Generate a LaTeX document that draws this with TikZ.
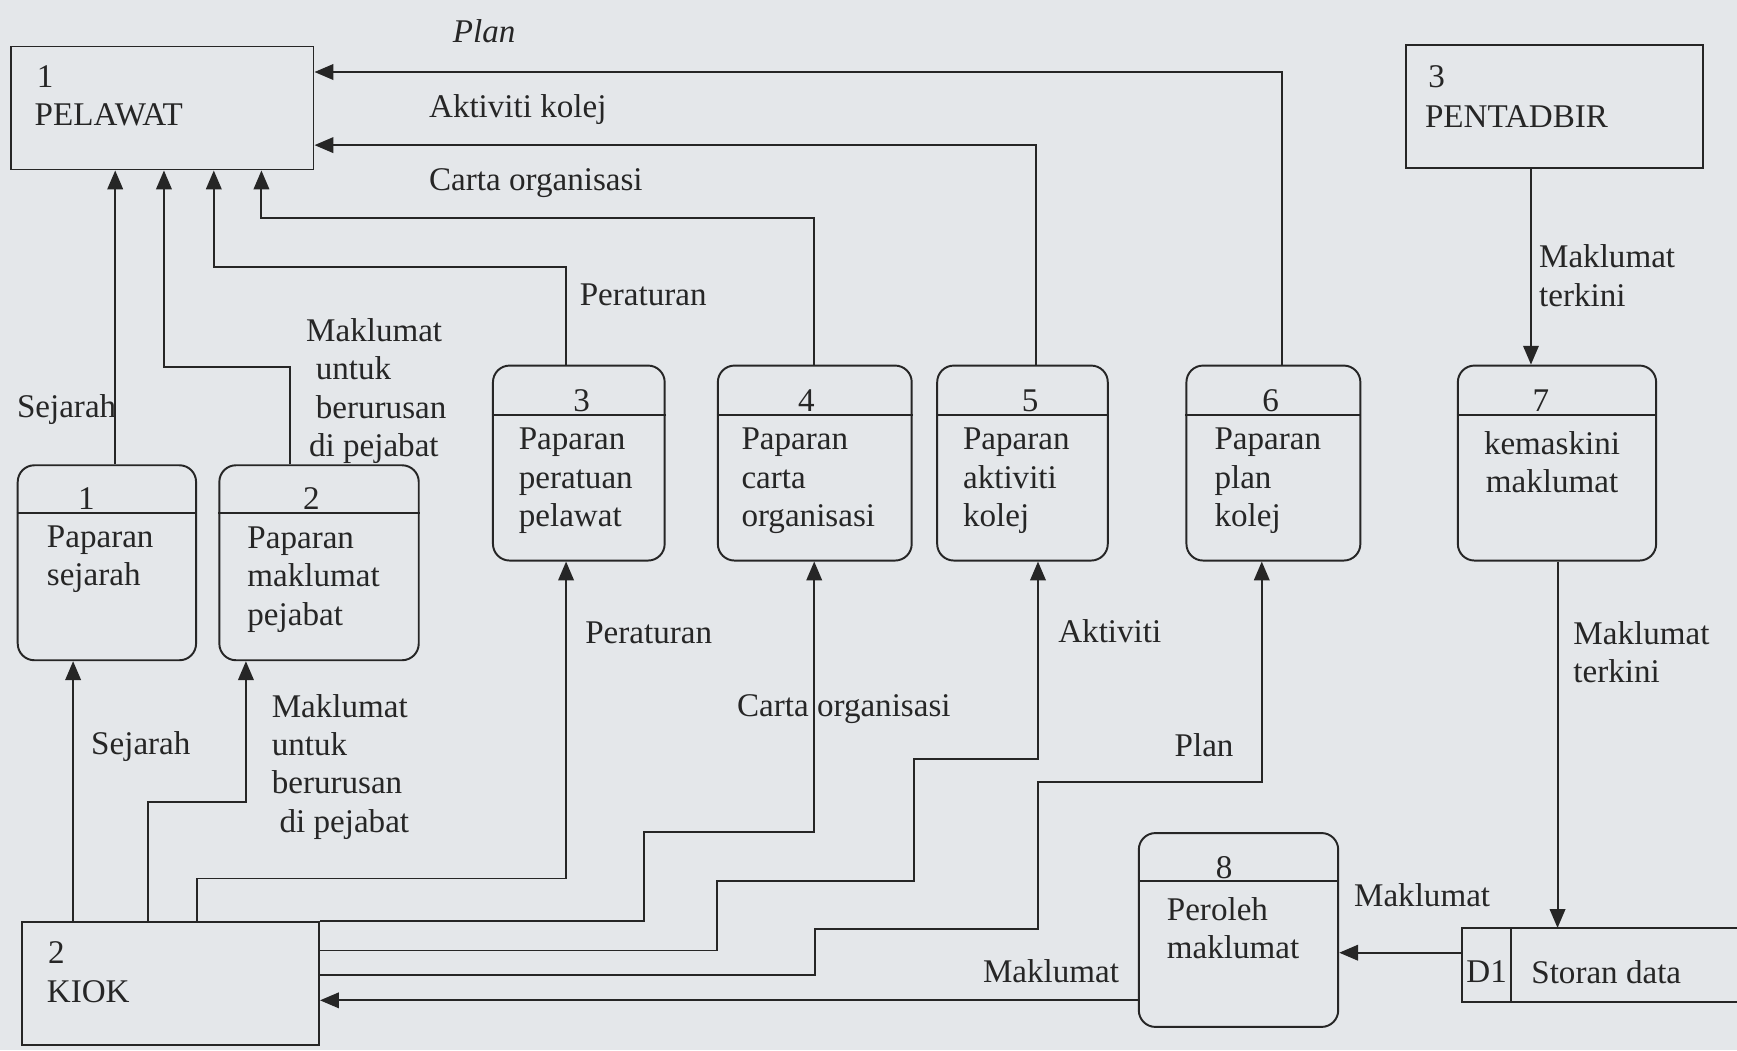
\documentclass[tikz,border=0pt]{standalone}
\usepackage{fontspec}
\setmainfont{Liberation Serif}
\usetikzlibrary{positioning, arrows.meta}
\definecolor{PaperGrey}{HTML}{E4E7EA}
\definecolor{InkGrey}{HTML}{262626}

\begin{document}
\begin{tikzpicture}[x=0.2mm, y=-0.2mm,
  every node/.style={font=\fontsize{17}{19.7}\selectfont, text=InkGrey, inner sep=0pt},
  entity/.style={draw=InkGrey, line width=1pt, rectangle, minimum height=22.2mm},
  proc/.style={draw=InkGrey, line width=1pt, rounded corners=3mm, minimum height=35.2mm},
  flow/.style={-{Triangle[length=3.4mm, width=2.8mm]}, line width=1pt, draw=InkGrey},
  lbl/.style={align=left, anchor=west}]
  \fill[PaperGrey] (0,0) rectangle (1568,948);
  \useasboundingbox (0,0) rectangle (1568,948);

  % External entities
  \node[entity, minimum width=54.6mm] (pelawat) at (146.5,97.5) {};
  \node[anchor=west] (pelawatnum) at (33,69) {1};
  \node[anchor=west] (pelawatname) at (31,104) {PELAWAT};
  \node[entity, minimum width=53.6mm] (kiok) at (154,887.5) {};
  \node[anchor=west] (kioknum) at (43,860) {2};
  \node[anchor=west] (kiokname) at (42,895) {KIOK};
  \node[entity, minimum width=53.6mm] (pentadbir) at (1403,96.5) {};
  \node[anchor=west] (pentadbirnum) at (1289,69) {3};
  \node[anchor=west] (pentadbirname) at (1286,105) {PENTADBIR};

  % Processes
  \node[proc, minimum width=32.2mm] (p1) at (96.5,508) {};
  \draw[InkGrey, line width=1pt] (p1.west |- 0,463) -- (p1.east |- 0,463);
  \node (p1num) at (78,450) {1};
  \node[lbl] (p1text) at (42,505) {Paparan\\sejarah};

  \node[proc, minimum width=36mm] (p2) at (288,508) {};
  \draw[InkGrey, line width=1pt] (p2.west |- 0,463) -- (p2.east |- 0,463);
  \node (p2num) at (281,450) {2};
  \node[lbl] (p2text) at (223,523) {Paparan\\maklumat\\pejabat};

  \node[proc, minimum width=31mm] (p3) at (522.5,418) {};
  \draw[InkGrey, line width=1pt] (p3.west |- 0,375) -- (p3.east |- 0,375);
  \node (p3num) at (525,362) {3};
  \node[lbl] (p3text) at (468,434) {Paparan\\peratuan\\pelawat};

  \node[proc, minimum width=35mm] (p4) at (735.5,418) {};
  \draw[InkGrey, line width=1pt] (p4.west |- 0,375) -- (p4.east |- 0,375);
  \node (p4num) at (728,362) {4};
  \node[lbl] (p4text) at (669,434) {Paparan\\carta\\organisasi};

  \node[proc, minimum width=30.8mm] (p5) at (923,418) {};
  \draw[InkGrey, line width=1pt] (p5.west |- 0,375) -- (p5.east |- 0,375);
  \node (p5num) at (930,362) {5};
  \node[lbl] (p5text) at (869,434) {Paparan\\aktiviti\\kolej};

  \node[proc, minimum width=31.4mm] (p6) at (1149.5,418) {};
  \draw[InkGrey, line width=1pt] (p6.west |- 0,375) -- (p6.east |- 0,375);
  \node (p6num) at (1147,362) {6};
  \node[lbl] (p6text) at (1096,434) {Paparan\\plan\\kolej};

  \node[proc, minimum width=35.8mm] (p7) at (1405.5,418) {};
  \draw[InkGrey, line width=1pt] (p7.west |- 0,375) -- (p7.east |- 0,375);
  \node (p7num) at (1391,362) {7};
  \node[align=center] (p7text) at (1401,417) {kemaskini\\maklumat};

  \node[proc, minimum width=36mm, minimum height=35mm] (p8) at (1118,839.5) {};
  \draw[InkGrey, line width=1pt] (p8.west |- 0,795) -- (p8.east |- 0,795);
  \node (p8num) at (1105,783) {8};
  \node[lbl] (p8text) at (1053,838) {Peroleh\\maklumat};

  % Data store
  \node[minimum width=49.6mm, minimum height=13.2mm] (store) at (1444,871) {};
  \draw[InkGrey, line width=1pt] (store.north east) -- (store.north west) -- (store.south west) -- (store.south east);
  \draw[InkGrey, line width=1pt] (1364,0 |- store.north) -- (1364,0 |- store.south);
  \node (storeid) at (1342,877) {D1};
  \node[anchor=west] (storename) at (1382,878) {Storan data};

  % Flows into PELAWAT
  \draw[flow] (1157,0 |- p6.north) |- (pelawat.east |- 0,65);
  \draw[flow] (935,0 |- p5.north) |- (pelawat.east |- 0,131);
  \draw[flow] (735,0 |- p4.north) -- (735,197) -| (236,0 |- pelawat.south);
  \draw[flow] (511,0 |- p3.north) -- (511,241) -| (193,0 |- pelawat.south);
  \draw[flow] (262,0 |- p2.north) -- (262,331) -| (148,0 |- pelawat.south);
  \draw[flow] (104,0 |- p1.north) -- (104,0 |- pelawat.south);
  \node[font=\fontsize{17}{19.7}\selectfont\itshape] (lplan) at (437,28) {Plan};
  \node[lbl] (laktiviti) at (387,99) {Aktiviti kolej};
  \node[lbl] (lcarta) at (387,165) {Carta organisasi};
  \node[lbl] (lperaturan) at (523,266) {Peraturan};
  \node[lbl] (lmaklumat) at (276,353) {Maklumat\\\hspace{5pt}untuk\\\hspace{5pt}berurusan\\\hspace{1.5pt}di pejabat};
  \node[lbl] (lsejarah) at (15,370) {Sejarah};

  % Flows from KIOK
  \draw[flow] (66,0 |- kiok.north) -- (66,0 |- p1.south);
  \draw[flow] (134,0 |- kiok.north) -- (134,724) -| (222,0 |- p2.south);
  \draw[flow] (178,0 |- kiok.north) -- (178,793) -| (511,0 |- p3.south);
  \draw[flow] (kiok.north east) -- (581,0 |- kiok.north) -- (581,751) -| (735,0 |- p4.south);
  \draw[flow] (kiok.east |- 0,858) -- (647,858) -- (647,795) -- (825,795) -- (825,685) -| (937,0 |- p5.south);
  \draw[flow] (kiok.east |- 0,880) -- (736,880) -- (736,839) -- (937,839) -- (937,706) -| (1139,0 |- p6.south);
  \node[lbl] (lsejarahb) at (82,674) {Sejarah};
  \node[lbl] (lmaklumatb) at (245,692) {Maklumat\\untuk\\berurusan\\\hspace{4pt}di pejabat};
  \node[lbl] (lperaturanb) at (528,571) {Peraturan};
  \node[lbl] (lcartab) at (665,640) {Carta organisasi};
  \node[lbl] (laktivitib) at (955,570) {Aktiviti};
  \node[lbl] (lplanb) at (1060,673) {Plan};

  % Update and retrieval
  \draw[flow] (1382,0 |- pentadbir.south) -- (1382,0 |- p7.north);
  \draw[flow] (1406,0 |- p7.south) -- (1406,0 |- store.north);
  \draw[flow] (store.west |- 0,860) -- (p8.east |- 0,860);
  \draw[flow] (p8.west |- 0,903) -- (kiok.east |- 0,903);
  \node[lbl] (lterkini) at (1389,249) {Maklumat\\terkini};
  \node[lbl] (lterkinib) at (1420,589) {Maklumat\\terkini};
  \node[lbl] (lstore) at (1222,808) {Maklumat};
  \node[lbl] (lkiok) at (887,877) {Maklumat};
\end{tikzpicture}
\end{document}
